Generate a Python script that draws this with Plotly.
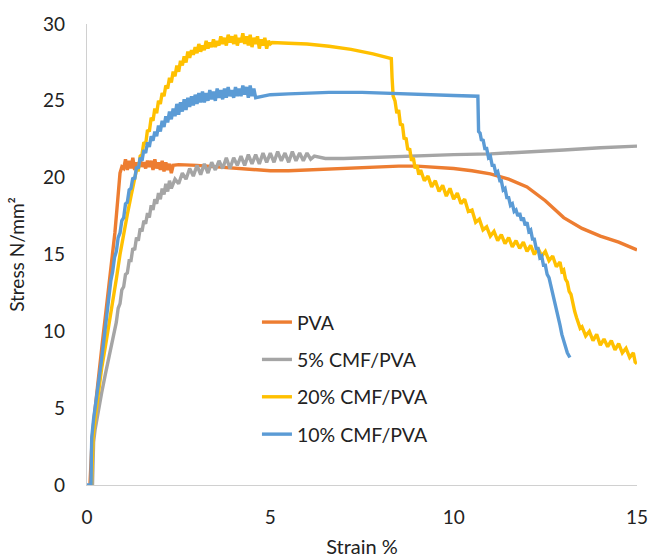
import plotly.graph_objects as go

series_names = ["PVA", "5% CMF/PVA", "20% CMF/PVA", "10% CMF/PVA"]
series_colors = ["#ED7D31", "#A5A5A5", "#FFC000", "#5B9BD5"]

pva = [(0.08,0),(0.1,1.5),(0.14,3.0),(0.2,4.5),(0.3,6.5),(0.42,9.3),(0.55,12.0),(0.65,14.0),(0.76,16.4),(0.84,18.6),(0.9,20.3),(0.95,20.7),(1.0,20.6),(1.05,21.2),(1.1,20.5),(1.15,21.1),(1.2,20.6),(1.25,21.3),(1.3,20.5),(1.35,21.0),(1.4,20.6),(1.45,21.2),(1.5,20.7),(1.55,21.0),(1.6,20.6),(1.65,21.1),(1.7,20.7),(1.75,21.1),(1.8,20.5),(1.85,21.2),(1.9,20.6),(1.95,21.0),(2.0,20.5),(2.05,21.1),(2.1,20.4),(2.15,21.0),(2.2,20.5),(2.25,20.9),(2.3,20.3),(2.35,20.8),(2.5,20.85),(3.0,20.8),(3.5,20.7),(4.0,20.6),(4.5,20.5),(5.0,20.45),(5.5,20.45),(6.0,20.5),(6.5,20.6),(7.0,20.65),(7.5,20.7),(8.0,20.75),(8.5,20.75),(9.0,20.75),(9.5,20.7),(10.0,20.6),(10.5,20.45),(11.0,20.25),(11.5,19.9),(12.0,19.4),(12.5,18.5),(13.0,17.4),(13.5,16.7),(14.0,16.2),(14.5,15.8),(15.0,15.3)]

cmf5 = [(0.15,0),(0.16,1.5),(0.18,2.8),(0.22,3.6),(0.3,4.8),(0.4,6.0),(0.5,7.2),(0.6,8.3),(0.7,9.4),(0.75,10.2),(0.8,10.6),(0.85,11.5),(0.9,11.8),(0.95,12.7),(1.0,12.9),(1.05,13.7),(1.1,13.8),(1.15,14.6),(1.2,14.6),(1.25,15.4),(1.3,15.3),(1.35,16.1),(1.4,15.9),(1.45,16.7),(1.5,16.5),(1.55,17.2),(1.6,17.0),(1.65,17.7),(1.7,17.4),(1.75,18.2),(1.8,17.9),(1.85,18.6),(1.9,18.3),(1.95,19.0),(2.0,18.6),(2.05,19.3),(2.1,18.9),(2.15,19.6),(2.2,19.1),(2.25,19.8),(2.3,19.3),(2.4,19.9),(2.5,19.6),(2.6,20.3),(2.7,19.9),(2.8,20.6),(2.9,20.1),(3.0,20.8),(3.1,20.2),(3.2,20.9),(3.3,20.3),(3.4,21.0),(3.5,20.5),(3.6,21.1),(3.7,20.6),(3.8,21.3),(3.9,20.6),(4.0,21.3),(4.1,20.8),(4.2,21.4),(4.3,20.8),(4.4,21.5),(4.5,20.9),(4.6,21.5),(4.7,20.9),(4.8,21.6),(4.9,21.0),(5.0,21.6),(5.1,21.0),(5.2,21.7),(5.3,21.1),(5.4,21.6),(5.5,21.0),(5.6,21.7),(5.7,21.1),(5.8,21.6),(5.9,21.1),(6.0,21.6),(6.1,21.2),(6.2,21.4),(6.5,21.25),(7.0,21.25),(7.5,21.3),(8.0,21.3),(9.0,21.4),(10.0,21.5),(11.0,21.55),(12.0,21.65),(13.0,21.8),(14.0,21.95),(15.0,22.05)]

cmf20 = [(0.12,0),(0.14,2.0),(0.17,3.2),(0.22,4.3),(0.3,5.8),(0.4,7.6),(0.5,9.0),(0.6,10.4),(0.71,12.0),(0.8,13.4),(0.9,15.0),(1.0,16.4),(1.1,17.6),(1.2,18.8),(1.3,19.8),(1.35,20.5),(1.4,20.5),(1.45,21.4),(1.5,21.5),(1.55,22.3),(1.6,22.2),(1.65,23.1),(1.7,23.0),(1.75,23.9),(1.8,23.7),(1.85,24.5),(1.9,24.2),(1.95,25.0),(2.0,24.8),(2.05,25.5),(2.1,25.3),(2.15,26.0),(2.2,25.8),(2.25,26.5),(2.3,26.2),(2.35,26.9),(2.4,26.6),(2.45,27.3),(2.5,26.9),(2.55,27.6),(2.6,27.3),(2.65,27.9),(2.7,27.5),(2.75,28.2),(2.8,27.8),(2.85,28.3),(2.9,28.0),(2.95,28.5),(3.0,28.1),(3.05,28.7),(3.1,28.2),(3.15,28.6),(3.2,28.3),(3.25,28.9),(3.3,28.4),(3.35,28.8),(3.4,28.5),(3.45,29.0),(3.5,28.5),(3.55,28.9),(3.6,28.6),(3.65,29.2),(3.7,28.7),(3.75,29.1),(3.8,28.6),(3.85,29.3),(3.9,28.8),(3.95,29.2),(4.0,28.7),(4.05,29.3),(4.1,28.6),(4.15,29.1),(4.2,28.8),(4.25,29.4),(4.3,28.7),(4.35,29.2),(4.4,28.6),(4.45,29.3),(4.5,28.5),(4.55,29.1),(4.6,28.7),(4.65,29.2),(4.7,28.4),(4.75,29.0),(4.8,28.6),(4.85,29.1),(4.9,28.4),(4.95,28.9),(5.0,28.7),(5.05,28.8),(5.5,28.75),(6.0,28.7),(6.6,28.55),(7.2,28.35),(7.8,28.05),(8.3,27.75),(8.32,26.5),(8.35,25.3),(8.4,25.0),(8.45,24.2),(8.5,24.4),(8.55,23.4),(8.6,23.5),(8.65,22.5),(8.7,22.6),(8.75,21.8),(8.8,21.9),(8.85,21.1),(8.9,21.3),(8.95,20.6),(9.0,20.8),(9.05,20.2),(9.1,20.5),(9.2,19.8),(9.3,20.1),(9.4,19.4),(9.5,19.8),(9.6,19.1),(9.7,19.5),(9.8,18.8),(9.9,19.3),(10.0,18.6),(10.1,19.0),(10.2,18.3),(10.3,18.6),(10.4,17.8),(10.5,17.9),(10.6,17.1),(10.7,17.3),(10.8,16.6),(10.9,16.8),(11.0,16.2),(11.1,16.5),(11.2,15.9),(11.3,16.3),(11.4,15.7),(11.5,16.1),(11.6,15.5),(11.7,15.9),(11.8,15.4),(11.9,15.8),(12.0,15.2),(12.1,15.6),(12.2,15.0),(12.3,15.4),(12.4,14.9),(12.5,15.2),(12.6,14.6),(12.7,14.9),(12.8,14.2),(12.9,14.5),(12.95,13.9),(13.0,14.0),(13.05,13.4),(13.1,13.2),(13.15,12.6),(13.2,12.4),(13.25,11.8),(13.3,11.3),(13.35,10.9),(13.4,10.6),(13.45,10.2),(13.5,10.3),(13.6,9.7),(13.7,10.0),(13.8,9.4),(13.9,9.8),(14.0,9.1),(14.1,9.5),(14.2,9.0),(14.3,9.4),(14.4,8.8),(14.5,9.2),(14.6,8.6),(14.7,8.9),(14.8,8.3),(14.9,8.6),(14.95,8.0),(15.0,7.9)]

cmf10 = [(0.0,0),(0.11,0),(0.12,2.0),(0.13,3.1),(0.18,4.3),(0.25,5.4),(0.3,6.2),(0.35,7.3),(0.4,8.2),(0.45,9.3),(0.5,10.4),(0.55,11.5),(0.6,12.3),(0.65,13.3),(0.7,13.9),(0.75,14.8),(0.8,15.2),(0.85,16.1),(0.9,16.4),(0.95,17.2),(1.0,17.4),(1.05,18.3),(1.1,18.4),(1.15,19.2),(1.2,19.3),(1.25,20.0),(1.3,19.9),(1.35,20.7),(1.4,20.6),(1.45,21.3),(1.5,21.1),(1.55,21.8),(1.6,21.6),(1.65,22.3),(1.7,22.0),(1.75,22.7),(1.8,22.4),(1.85,23.0),(1.9,22.7),(1.95,23.4),(2.0,23.0),(2.05,23.7),(2.1,23.3),(2.15,24.0),(2.2,23.6),(2.25,24.3),(2.3,23.8),(2.35,24.5),(2.4,24.0),(2.45,24.8),(2.5,24.1),(2.55,24.9),(2.6,24.3),(2.65,25.1),(2.7,24.4),(2.75,25.2),(2.8,24.6),(2.85,25.3),(2.9,24.7),(2.95,25.4),(3.0,24.8),(3.05,25.5),(3.1,24.9),(3.15,25.6),(3.2,24.9),(3.25,25.5),(3.3,25.0),(3.35,25.7),(3.4,25.1),(3.45,25.6),(3.5,25.0),(3.55,25.8),(3.6,25.2),(3.65,25.7),(3.7,25.1),(3.75,25.8),(3.8,25.2),(3.85,25.9),(3.9,25.3),(3.95,25.7),(4.0,25.2),(4.05,25.9),(4.1,25.3),(4.15,25.8),(4.2,25.3),(4.25,26.0),(4.3,25.4),(4.35,25.9),(4.4,25.2),(4.45,26.0),(4.5,25.3),(4.55,25.8),(4.6,25.2),(5.0,25.4),(5.5,25.45),(6.0,25.5),(6.6,25.55),(7.5,25.55),(8.0,25.5),(9.0,25.45),(10.0,25.35),(10.66,25.3),(10.67,24.0),(10.68,23.0),(10.72,22.9),(10.76,22.4),(10.8,22.5),(10.85,21.9),(10.9,21.9),(10.95,21.3),(11.0,21.4),(11.05,20.8),(11.1,20.8),(11.15,20.3),(11.2,20.4),(11.26,19.8),(11.3,19.8),(11.35,19.2),(11.4,19.3),(11.45,18.7),(11.5,18.7),(11.55,18.2),(11.6,18.3),(11.65,17.8),(11.7,17.9),(11.75,17.5),(11.8,17.7),(11.85,17.2),(11.9,17.4),(11.95,16.9),(12.0,17.1),(12.05,16.5),(12.1,16.6),(12.15,16.0),(12.2,16.0),(12.25,15.4),(12.3,15.4),(12.35,14.8),(12.4,14.9),(12.45,14.3),(12.5,14.3),(12.55,13.7),(12.6,13.5),(12.65,13.0),(12.7,12.6),(12.75,12.0),(12.8,11.4),(12.85,10.9),(12.9,10.4),(12.95,9.8),(13.0,9.4),(13.05,8.9),(13.1,8.6),(13.17,8.3)]

x_ticks = [0, 5, 10, 15]
y_ticks = [0, 5, 10, 15, 20, 25, 30]

FONT = "Lato"
all_series = [pva, cmf5, cmf20, cmf10]

fig = go.Figure()
for i, (name, color, pts) in enumerate(zip(series_names, series_colors, all_series)):
    fig.add_trace(go.Scatter(
        x=[p[0] for p in pts], y=[p[1] for p in pts],
        mode="lines", name=name, legendgroup=f"g{i}",
        line=dict(color=color, width=3.4),
    ))

fig.update_layout(
    width=650, height=558,
    margin=dict(l=87, r=13, t=24, b=73),
    paper_bgcolor="white", plot_bgcolor="white",
    font=dict(family=FONT, size=19, color="#222222"),
    showlegend=True,
    legend=dict(x=0.309, y=0.395, xanchor="left", yanchor="top",
                font=dict(size=19.5, family=FONT, color="#222222"),
                bgcolor="rgba(0,0,0,0)", tracegroupgap=9,
                itemwidth=30),
    xaxis=dict(range=[0, 15], tickvals=x_ticks, showgrid=False, zeroline=False,
               automargin=False,
               showline=True, linecolor="#D0D0D0", linewidth=1.2,
               ticks="outside", ticklen=15, tickcolor="rgba(0,0,0,0)",
               tickfont=dict(size=19),
               title=dict(text="Strain %", font=dict(size=20), standoff=19)),
    yaxis=dict(range=[0, 30], tickvals=y_ticks, showgrid=False, zeroline=False,
               automargin=False,
               showline=True, linecolor="#D0D0D0", linewidth=1.2,
               ticks="outside", ticklen=17, tickcolor="rgba(0,0,0,0)",
               tickfont=dict(size=19),
               title=dict(text="Stress N/mm²", font=dict(size=19), standoff=13)),
)

fig.write_html("out.html")
